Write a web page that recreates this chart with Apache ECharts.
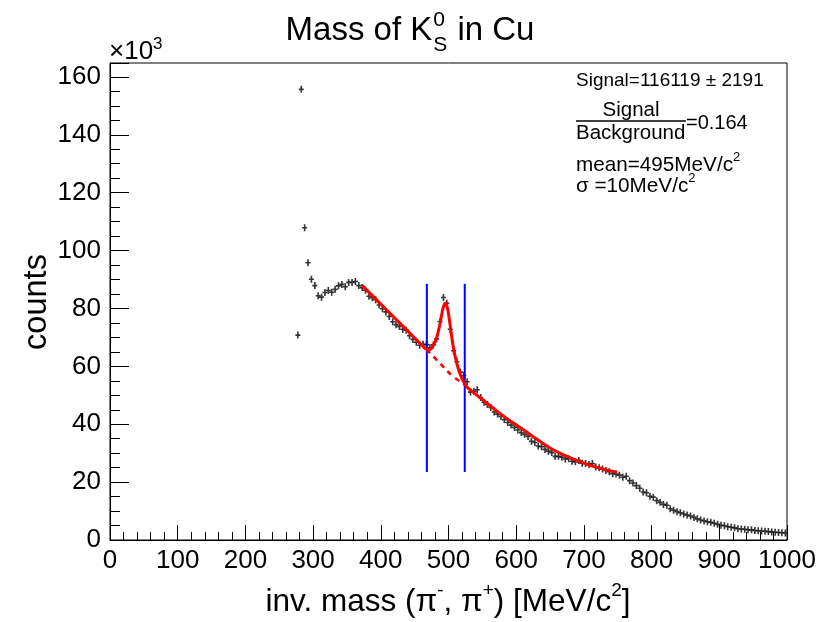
<!DOCTYPE html>
<html>
<head>
<meta charset="utf-8">
<script src="https://cdn.jsdelivr.net/npm/echarts@6/dist/echarts.min.js"></script>
<style>
html,body{margin:0;padding:0;background:#fff;}
#chart{width:821px;height:622px;}
</style>
</head>
<body>
<div id="chart"></div>
<script>
// ---- data (counts in units of 10^3, invariant mass in MeV/c^2) ----
const binWidth = 5;
const firstBinCenter = 277.5;
const counts = [
  70.8,155.7,107.9,95.8,90.1,87.9,84.4,83.9,85.5,86.2,85.6,86.6,87.8,88.3,87.5,89.0,89.0,89.3,87.9,87.2,
  86.3,84.2,83.7,83.0,81.2,79.9,78.8,77.2,75.4,74.4,73.8,72.8,72.5,70.6,69.3,68.3,67.3,67.6,67.5,66.4,
  67.4,69.5,75.5,83.8,81.8,72.8,65.4,61.6,58.0,56.8,54.7,51.1,51.4,51.9,49.2,47.6,46.8,45.8,44.2,43.5,
  42.7,41.6,40.6,39.7,38.9,38.0,37.1,36.5,35.8,34.1,33.7,32.5,32.2,31.3,30.7,30.2,28.9,28.9,28.6,28.0,
  28.1,27.2,27.0,27.5,26.5,26.4,26.1,26.4,25.2,25.0,24.5,24.0,23.6,22.9,22.8,22.4,21.7,22.0,20.5,19.7,
  18.8,17.9,16.6,16.3,15.1,14.8,13.6,13.0,12.3,12.0,10.8,10.3,9.8,9.4,9.0,8.6,8.3,7.8,7.3,6.9,
  6.6,6.3,6.1,5.8,5.4,5.1,4.9,4.6,4.4,4.2,3.9,3.8,3.7,3.5,3.5,3.3,3.2,3.1,3.0,2.9,2.8,2.7,2.6,2.5,2.4
];
// fit curve (signal + background)
const fitX = [372.7,400,430,450,462,467.8,473,478,483,488,492,495.5,499,503,507,512,517,522,527,540,555,570,585,600,615,630,650,670,694,719,749];
const fitY = [87.9,81.5,74.5,69.8,67.0,65.8,65.9,67.4,70.2,75.3,80.2,81.9,79.5,73.2,66.8,61.3,57.4,54.7,52.9,50.4,47.6,44.8,42.2,39.8,37.4,34.9,31.8,29.4,27.1,25.1,23.4];
// background under the peak (dashed)
const bkgX = [467.8,480,492,505,524.4];
const bkgY = [65.8,62.8,59.9,56.9,53.6];
// signal window (blue lines)
const windowX = [468,524];
const windowY = [23.5,88.5];
// axes
const xMin = 0, xMax = 1000, xStep = 100;
const yMin = 0, yMax = 164.8, yStep = 20;

const FONT = '"Liberation Sans", Arial, Helvetica, sans-serif';
const points = counts.map((v,i)=>[firstBinCenter + i*binWidth, v]);

const cnv = document.createElement('canvas');
const ctx = cnv.getContext('2d');
function tw(t, size){ ctx.font = size + 'px ' + FONT; return ctx.measureText(t).width; }
function txt(t, x, y, size, align, extra){
  const o = {type:'text', x:x, y:y, z:100, silent:true,
    style:{text:t, font:size+'px '+FONT, fill:'#000', textAlign:align||'left', align:align||'left',
      textVerticalAlign:'middle', verticalAlign:'middle'}};
  return Object.assign(o, extra||{});
}
function run(segs, x, y, anchor){
  let total = 0; segs.forEach(s=>{ s.w = tw(s.t, s.size); total += s.w; });
  let cx = anchor==='center' ? x - total/2 : x;
  const out = [];
  segs.forEach(s=>{ out.push(txt(s.t, cx, y + (s.dy||0), s.size, 'left')); cx += s.w; });
  return out;
}

const graphics = [];
// title: Mass of K^0_S in Cu
(function(){
  const big = 33, small = 21;
  const wA = tw('Mass of K', big), w0 = Math.max(tw('0',small), tw('S',small)), wC = tw(' in Cu', big);
  const total = wA + w0 + 2 + wC;
  const x0 = 410 - total/2;
  graphics.push(txt('Mass of K', x0, 31, big));
  graphics.push(txt('0', x0 + wA + 1, 20, small));
  graphics.push(txt('S', x0 + wA + 1, 45, small));
  graphics.push(txt(' in Cu', x0 + wA + w0 + 2, 31, big));
})();
// x10^3
graphics.push(...run([{t:'\u00d710',size:26},{t:'3',size:17,dy:-8}], 109, 52, 'left'));
// x axis title
graphics.push(...run([
  {t:'inv. mass (\u03c0',size:31.5},{t:'-',size:19,dy:-11},{t:', \u03c0',size:31.5},{t:'+',size:19,dy:-11},
  {t:') [MeV/c',size:31.5},{t:'2',size:19,dy:-11},{t:']',size:31.5}], 448, 602, 'center'));
// y axis title
graphics.push(txt('counts', 37, 302, 32.5, 'center', {rotation: Math.PI/2}));
// stats box
graphics.push(txt('Signal=116119 \u00b1 2191', 576, 81, 19));
graphics.push(txt('Signal', 631, 110, 20.5, 'center'));
graphics.push({type:'line', z:100, silent:true, shape:{x1:576,y1:121,x2:686,y2:121}, style:{stroke:'#000', lineWidth:1.5}});
graphics.push(txt('Background', 576, 133, 20.5));
graphics.push(txt('=0.164', 686, 123, 20));
graphics.push(...run([{t:'mean=495MeV/c',size:20.7},{t:'2',size:13,dy:-8}], 576, 165, 'left'));
graphics.push(...run([{t:'\u03c3 =10MeV/c',size:20.7},{t:'2',size:13,dy:-8}], 576, 186, 'left'));

const chart = echarts.init(document.getElementById('chart'), null, {renderer:'canvas'});
chart.setOption({
  animation:false,
  backgroundColor:'#fff',
  grid:{left:110, right:34, top:63, bottom:82, show:true, borderColor:'#000', borderWidth:1, backgroundColor:'transparent'},
  xAxis:{type:'value', min:xMin, max:xMax, interval:xStep,
    axisLine:{show:true, onZero:false, lineStyle:{color:'#000', width:1}},
    axisTick:{show:true, inside:true, length:15, lineStyle:{color:'#000', width:1}},
    minorTick:{show:true, splitNumber:5, length:8, lineStyle:{color:'#000', width:1}},
    axisLabel:{fontSize:26, color:'#000', fontFamily:FONT, margin:8, formatter:(v)=>String(v)},
    splitLine:{show:false}},
  yAxis:{type:'value', min:yMin, max:yMax, interval:yStep,
    axisLine:{show:true, onZero:false, lineStyle:{color:'#000', width:1}},
    axisTick:{show:true, inside:true, length:19, lineStyle:{color:'#000', width:1}},
    minorTick:{show:true, splitNumber:4, length:10, lineStyle:{color:'#000', width:1}},
    axisLabel:{fontSize:26, color:'#000', fontFamily:FONT, margin:9, showMaxLabel:false, formatter:(v)=>String(v)},
    splitLine:{show:false}},
  series:[
    {type:'scatter', data:points, symbol:'path://M0,2.7L5,2.7L5,4.3L0,4.3Z M1.7,0L3.3,0L3.3,7L1.7,7Z',
     symbolSize:[5,7], itemStyle:{color:'#000'}, z:2, silent:true},
    {type:'line', data:[[windowX[0],windowY[0]],[windowX[0],windowY[1]]], showSymbol:false, symbol:'none',
     lineStyle:{color:'#0000ff', width:2}, z:3, silent:true},
    {type:'line', data:[[windowX[1],windowY[0]],[windowX[1],windowY[1]]], showSymbol:false, symbol:'none',
     lineStyle:{color:'#0000ff', width:2}, z:3, silent:true},
    {type:'line', data:bkgX.map((x,i)=>[x,bkgY[i]]), smooth:true, symbol:'none',
     lineStyle:{color:'#ff0000', width:2.5, type:[5,5]}, z:4, silent:true},
    {type:'line', data:fitX.map((x,i)=>[x,fitY[i]]), smooth:0.3, symbol:'none',
     lineStyle:{color:'#ff0000', width:3}, z:5, silent:true}
  ],
  graphic:graphics
});
</script>
</body>
</html>
